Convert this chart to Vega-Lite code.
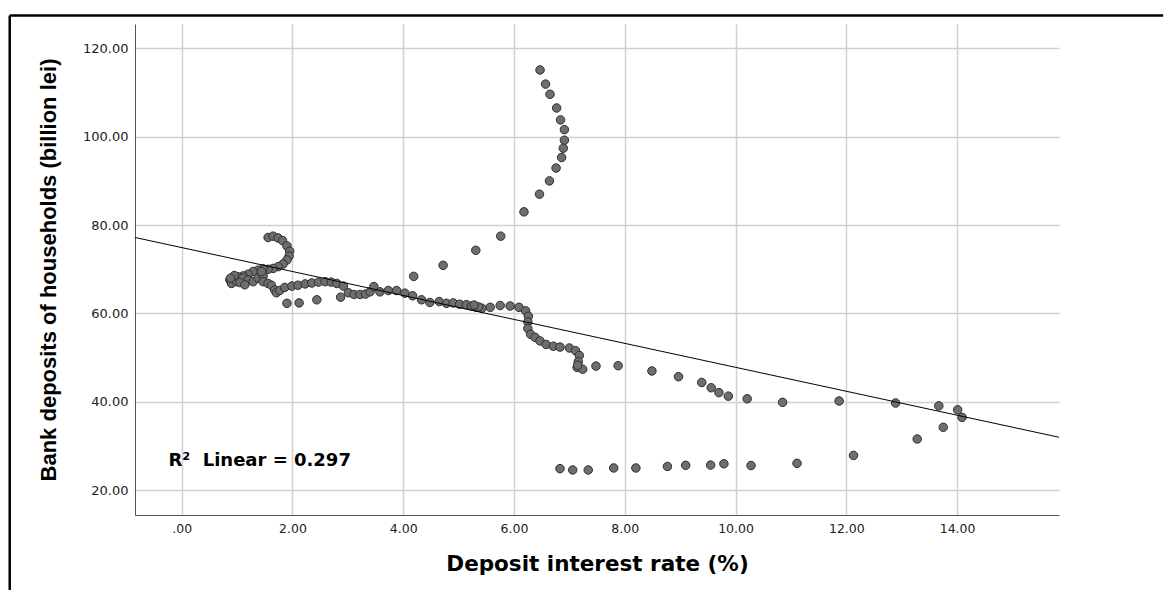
{
  "$schema": "https://vega.github.io/schema/vega-lite/v6.json",
  "width": 924,
  "height": 491,
  "autosize": "none",
  "padding": {"left": 135, "top": 24, "right": 108, "bottom": 75},
  "background": "white",
  "config": {
    "view": {"stroke": null},
    "font": "DejaVu Sans",
    "axis": {
      "labelFont": "DejaVu Sans",
      "labelFontSize": 12.5,
      "labelColor": "#222222",
      "titleFont": "DejaVu Sans",
      "titleFontSize": 21.5,
      "titleFontWeight": "bold",
      "titleColor": "#000000",
      "domainColor": "#555555",
      "domainWidth": 1,
      "gridColor": "#d0d0d0",
      "gridWidth": 1.5,
      "ticks": false
    }
  },
  "datasets": {
    "points": [
      {"rate": 6.47, "deposits": 115.1}, {"rate": 6.57, "deposits": 111.9}, {"rate": 6.65, "deposits": 109.6},
      {"rate": 6.77, "deposits": 106.5}, {"rate": 6.84, "deposits": 103.8}, {"rate": 6.91, "deposits": 101.6},
      {"rate": 6.91, "deposits": 99.2}, {"rate": 6.89, "deposits": 97.4}, {"rate": 6.86, "deposits": 95.3},
      {"rate": 6.76, "deposits": 92.9}, {"rate": 6.64, "deposits": 90.0}, {"rate": 6.46, "deposits": 87.0},
      {"rate": 6.18, "deposits": 83.0}, {"rate": 5.76, "deposits": 77.5}, {"rate": 5.31, "deposits": 74.3},
      {"rate": 4.72, "deposits": 70.9}, {"rate": 4.19, "deposits": 68.4},
      {"rate": 1.56, "deposits": 77.2}, {"rate": 1.65, "deposits": 77.5}, {"rate": 1.74, "deposits": 77.1},
      {"rate": 1.82, "deposits": 76.5}, {"rate": 1.90, "deposits": 75.3}, {"rate": 1.95, "deposits": 74.1},
      {"rate": 1.94, "deposits": 73.0}, {"rate": 1.90, "deposits": 72.1}, {"rate": 1.83, "deposits": 71.2},
      {"rate": 1.74, "deposits": 70.6}, {"rate": 1.65, "deposits": 70.2}, {"rate": 1.56, "deposits": 70.0},
      {"rate": 1.47, "deposits": 70.1}, {"rate": 1.38, "deposits": 69.8}, {"rate": 1.29, "deposits": 69.5},
      {"rate": 1.20, "deposits": 68.9}, {"rate": 1.11, "deposits": 68.5}, {"rate": 1.02, "deposits": 68.3},
      {"rate": 0.93, "deposits": 68.2}, {"rate": 0.87, "deposits": 67.6}, {"rate": 0.90, "deposits": 66.8},
      {"rate": 0.99, "deposits": 67.2}, {"rate": 1.10, "deposits": 68.0}, {"rate": 1.20, "deposits": 67.6},
      {"rate": 1.29, "deposits": 67.2}, {"rate": 1.38, "deposits": 68.0}, {"rate": 1.47, "deposits": 68.5},
      {"rate": 1.44, "deposits": 69.5}, {"rate": 1.47, "deposits": 67.2}, {"rate": 1.56, "deposits": 66.8},
      {"rate": 1.62, "deposits": 66.4}, {"rate": 1.68, "deposits": 65.3}, {"rate": 1.71, "deposits": 64.7},
      {"rate": 1.77, "deposits": 65.2}, {"rate": 1.86, "deposits": 65.9}, {"rate": 1.99, "deposits": 66.2},
      {"rate": 2.10, "deposits": 66.4}, {"rate": 2.23, "deposits": 66.7}, {"rate": 2.35, "deposits": 66.9},
      {"rate": 2.47, "deposits": 67.1}, {"rate": 2.59, "deposits": 67.2}, {"rate": 2.70, "deposits": 67.1},
      {"rate": 2.80, "deposits": 66.8}, {"rate": 2.92, "deposits": 66.2},
      {"rate": 0.95, "deposits": 68.6}, {"rate": 1.05, "deposits": 67.0}, {"rate": 1.14, "deposits": 66.5},
      {"rate": 0.88, "deposits": 68.0},
      {"rate": 1.90, "deposits": 62.3}, {"rate": 2.12, "deposits": 62.4}, {"rate": 2.44, "deposits": 63.1},
      {"rate": 2.87, "deposits": 63.7},
      {"rate": 3.01, "deposits": 64.7}, {"rate": 3.11, "deposits": 64.3}, {"rate": 3.22, "deposits": 64.3},
      {"rate": 3.32, "deposits": 64.4}, {"rate": 3.40, "deposits": 64.9}, {"rate": 3.47, "deposits": 66.1},
      {"rate": 3.58, "deposits": 64.9}, {"rate": 3.73, "deposits": 65.2}, {"rate": 3.88, "deposits": 65.2},
      {"rate": 4.03, "deposits": 64.6}, {"rate": 4.17, "deposits": 64.0}, {"rate": 4.33, "deposits": 63.1},
      {"rate": 4.48, "deposits": 62.5}, {"rate": 4.65, "deposits": 62.7}, {"rate": 4.78, "deposits": 62.3},
      {"rate": 4.90, "deposits": 62.4}, {"rate": 5.02, "deposits": 62.1}, {"rate": 5.14, "deposits": 62.0},
      {"rate": 5.23, "deposits": 61.7}, {"rate": 5.32, "deposits": 61.4}, {"rate": 5.42, "deposits": 61.2},
      {"rate": 5.36, "deposits": 61.5}, {"rate": 5.28, "deposits": 61.9}, {"rate": 5.57, "deposits": 61.4},
      {"rate": 5.75, "deposits": 61.8}, {"rate": 5.93, "deposits": 61.7}, {"rate": 6.09, "deposits": 61.4},
      {"rate": 6.21, "deposits": 60.6}, {"rate": 6.26, "deposits": 59.4}, {"rate": 6.25, "deposits": 58.1},
      {"rate": 6.25, "deposits": 56.6}, {"rate": 6.30, "deposits": 55.3}, {"rate": 6.38, "deposits": 54.6},
      {"rate": 6.47, "deposits": 53.8}, {"rate": 6.58, "deposits": 53.0}, {"rate": 6.71, "deposits": 52.6},
      {"rate": 6.83, "deposits": 52.4}, {"rate": 7.00, "deposits": 52.2}, {"rate": 7.11, "deposits": 51.6},
      {"rate": 7.18, "deposits": 50.5}, {"rate": 7.16, "deposits": 49.1}, {"rate": 7.14, "deposits": 47.8},
      {"rate": 7.24, "deposits": 47.4}, {"rate": 7.15, "deposits": 48.3},
      {"rate": 7.48, "deposits": 48.1}, {"rate": 7.88, "deposits": 48.2}, {"rate": 8.49, "deposits": 47.0},
      {"rate": 8.97, "deposits": 45.7}, {"rate": 9.39, "deposits": 44.4}, {"rate": 9.56, "deposits": 43.2},
      {"rate": 9.70, "deposits": 42.1}, {"rate": 9.87, "deposits": 41.3}, {"rate": 10.21, "deposits": 40.7},
      {"rate": 10.85, "deposits": 39.9}, {"rate": 11.87, "deposits": 40.2}, {"rate": 12.89, "deposits": 39.75},
      {"rate": 13.67, "deposits": 39.1}, {"rate": 14.01, "deposits": 38.2}, {"rate": 14.09, "deposits": 36.5},
      {"rate": 13.75, "deposits": 34.25}, {"rate": 13.28, "deposits": 31.6}, {"rate": 12.13, "deposits": 27.9},
      {"rate": 11.11, "deposits": 26.1}, {"rate": 10.28, "deposits": 25.6}, {"rate": 9.79, "deposits": 26.0},
      {"rate": 9.55, "deposits": 25.7}, {"rate": 9.10, "deposits": 25.65}, {"rate": 8.77, "deposits": 25.4},
      {"rate": 8.20, "deposits": 25.05}, {"rate": 7.80, "deposits": 25.05}, {"rate": 7.34, "deposits": 24.6},
      {"rate": 7.06, "deposits": 24.6}, {"rate": 6.83, "deposits": 24.9}
    ],
    "fit": [
      {"rate": -0.843, "deposits": 77.2},
      {"rate": 15.84, "deposits": 32.0}
    ]
  },
  "layer": [
    {
      "data": {"name": "points"},
      "mark": {"type": "point", "shape": "circle", "filled": true, "size": 72, "fill": "#6e6e6e", "stroke": "#2e2e2e", "strokeWidth": 1, "opacity": 1},
      "encoding": {
        "x": {
          "field": "rate", "type": "quantitative",
          "scale": {"domain": [-0.843, 15.84], "nice": false, "zero": false},
          "axis": {
            "title": "Deposit interest rate (%)",
            "values": [0, 2, 4, 6, 8, 10, 12, 14],
            "labelExpr": "datum.value == 0 ? '.00' : format(datum.value, '.2f')",
            "labelFontSize": 12.5,
            "labelPadding": 7,
            "titlePadding": 19
          }
        },
        "y": {
          "field": "deposits", "type": "quantitative",
          "scale": {"domain": [14.41, 125.5], "nice": false, "zero": false},
          "axis": {
            "title": "Bank deposits of households (billion lei)",
            "titleFont": "Liberation Sans",
            "titleFontSize": 22,
            "values": [20, 40, 60, 80, 100, 120],
            "format": ".2f",
            "labelFontSize": 13,
            "labelPadding": 7,
            "titlePadding": 22
          }
        }
      }
    },
    {
      "data": {"name": "fit"},
      "mark": {"type": "line", "color": "#000000", "strokeWidth": 1, "clip": true},
      "encoding": {
        "x": {"field": "rate", "type": "quantitative"},
        "y": {"field": "deposits", "type": "quantitative"}
      }
    },
    {
      "data": {"values": [{}]},
      "mark": {"type": "text", "text": "R\u00b2\u00a0 Linear = 0.297", "font": "DejaVu Sans", "fontWeight": "bold", "fontSize": 18, "align": "left", "baseline": "alphabetic", "color": "#000000"},
      "encoding": {
        "x": {"datum": -0.24},
        "y": {"datum": 25.6}
      }
    },
    {
      "data": {"values": [{}]},
      "mark": {"type": "rule", "color": "#000000", "strokeWidth": 2.5, "clip": false},
      "encoding": {
        "x": {"datum": -3.105},
        "x2": {"datum": 17.72},
        "y": {"datum": 127.4}
      }
    },
    {
      "data": {"values": [{}]},
      "mark": {"type": "rule", "color": "#000000", "strokeWidth": 2.5, "clip": false},
      "encoding": {
        "x": {"datum": -3.105},
        "y": {"datum": 127.4},
        "y2": {"datum": -30}
      }
    }
  ]
}
